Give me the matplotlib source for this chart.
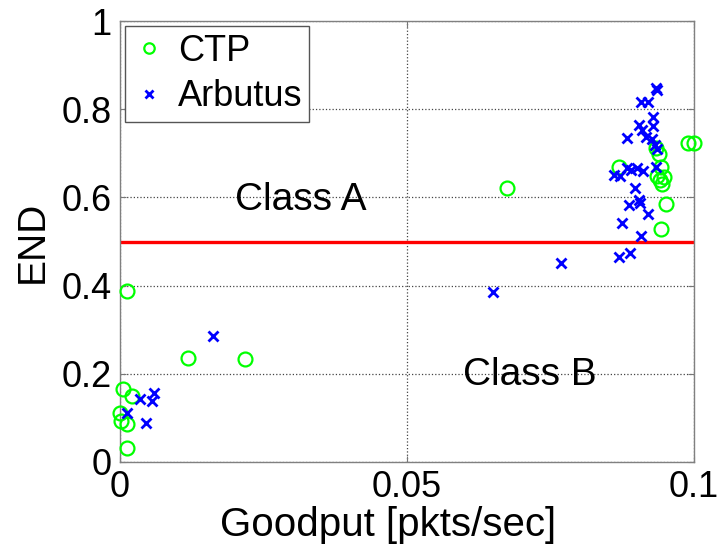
import matplotlib
matplotlib.use("Agg")
import matplotlib.pyplot as plt

plt.rcParams["font.family"] = ["Liberation Sans", "DejaVu Sans"]

# CTP points (goodput, END)
ctp_x = [0.00117, 0.0118, 0.0218, 0.00047, 0.00204, 0.0000, 0.0001, 0.00117, 0.00128,
         0.0674, 0.0869, 0.0990, 0.1000, 0.0933, 0.0939, 0.0943, 0.0935, 0.0948,
         0.0941, 0.0944, 0.0951, 0.0942]
ctp_y = [0.388, 0.2365, 0.233, 0.1655, 0.150, 0.110, 0.094, 0.0855, 0.032,
         0.622, 0.670, 0.724, 0.724, 0.711, 0.698, 0.670, 0.6485, 0.647,
         0.639, 0.630, 0.584, 0.528]

# Arbutus points
arb_x = [0.01626, 0.00598, 0.00552, 0.00348, 0.00128, 0.00453,
         0.0933, 0.0936, 0.0908, 0.0920, 0.0928, 0.0928, 0.0905, 0.0909,
         0.0884, 0.0916, 0.0926, 0.0932, 0.0935, 0.0933, 0.0861, 0.0871,
         0.0883, 0.0891, 0.0900, 0.0912, 0.0898, 0.0886, 0.0905, 0.0906,
         0.0920, 0.0874, 0.0908, 0.0870, 0.0888, 0.0768, 0.0649]
arb_y = [0.2857, 0.156, 0.138, 0.142, 0.110, 0.0877,
         0.847, 0.8435, 0.816, 0.816, 0.7815, 0.762, 0.764, 0.753,
         0.7355, 0.738, 0.732, 0.719, 0.709, 0.670, 0.651, 0.6485,
         0.666, 0.662, 0.666, 0.6605, 0.622, 0.583, 0.594, 0.5865,
         0.5617, 0.541, 0.5125, 0.464, 0.473, 0.4505, 0.386]

umbral = 0.5
x_ticks = [0, 0.05, 0.1]
x_tick_labels = ["0", "0.05", "0.1"]
y_ticks = [0, 0.2, 0.4, 0.6, 0.8, 1]
y_tick_labels = ["0", "0.2", "0.4", "0.6", "0.8", "1"]

fig = plt.figure(figsize=(7.28, 5.47), dpi=100)
ax = fig.add_axes([0.1648, 0.1554, 0.7885, 0.8062])

ax.plot(ctp_x, ctp_y, linestyle="none", marker="o", markersize=10,
        markerfacecolor="none", markeredgecolor="#00ff00", markeredgewidth=1.6,
        label="CTP", clip_on=False, zorder=3)
ax.plot(arb_x, arb_y, linestyle="none", marker="x", markersize=7.5,
        color="#0000ff", markeredgewidth=2.0, label="Arbutus", zorder=3)
ax.axhline(y=umbral, color="red", linewidth=2.4, zorder=2)

ax.set_xlim(0, 0.1)
ax.set_ylim(0, 1)
ax.set_xticks(x_ticks)
ax.set_xticklabels(x_tick_labels)
ax.set_yticks(y_ticks)
ax.set_yticklabels(y_tick_labels)
ax.tick_params(direction="in", length=4, color="#777777", labelsize=26,
               top=True, right=True, pad=6)
ax.grid(True, linestyle=":", color="#444444", linewidth=0.9)
for s in ax.spines.values():
    s.set_color("#808080")
    s.set_linewidth(1.0)

ax.set_xlabel("Goodput [pkts/sec]", fontsize=29)
ax.xaxis.set_label_coords(0.467, -0.10)
ax.set_ylabel("END", fontsize=28, labelpad=8)

ax.text(0.0315, 0.594, "Class A", fontsize=28, ha="center", va="center")
ax.text(0.0714, 0.197, "Class B", fontsize=28, ha="center", va="center")

leg = ax.legend(loc="upper left", fontsize=26, fancybox=False, framealpha=1,
                borderaxespad=0.15, handlelength=0.9, handletextpad=0.35,
                borderpad=0.2, labelspacing=0.3, markerscale=0.75)
leg.get_frame().set_edgecolor("#555555")
leg.get_frame().set_linewidth(1.0)

fig.savefig("out.png", dpi=100)
